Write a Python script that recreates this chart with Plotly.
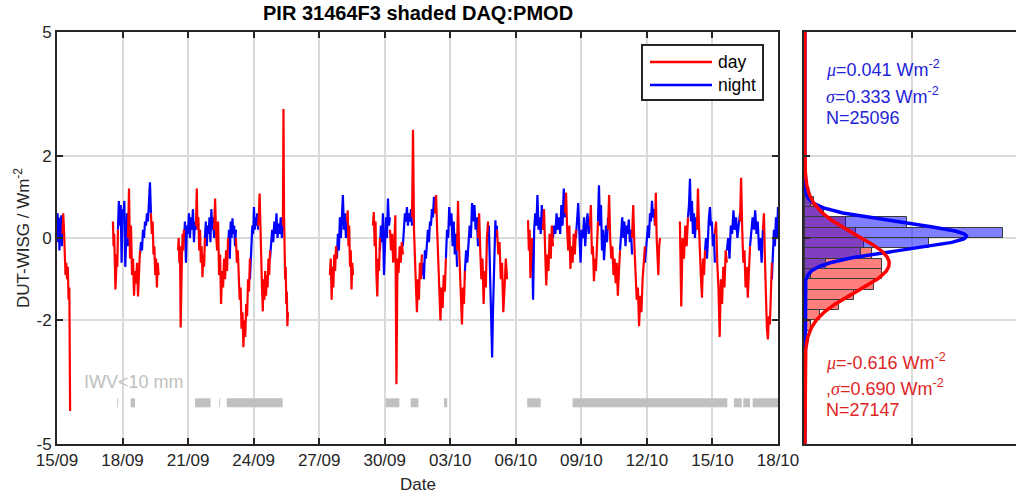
import numpy as np
import pandas as pd
import plotly.graph_objects as go

W, H = 1016, 498
START = pd.Timestamp("2016-09-15")

# ---- time series: (start_day, end_day, samples), days counted from 15/09 ----
DAY_SEGMENTS = [
    (0.25, 0.60, [0.1, 0.6, 0.2, -0.5, -0.9, -0.6, -1.0, -0.7, -1.5, -1.2, -4.2]),
    (2.56, 2.79, [0.4, -0.2, 0.1, -0.8, -1.25, -0.9, -0.4, -0.7, 0.2]),
    (3.25, 3.80, [0.0, 1.2, -0.5, 0.3, -0.9, -0.5, -1.4, -0.8, -1.1, -0.6, -1.42, -0.9, -0.3]),
    (4.30, 4.65, [0.6, 0.1, 0.4, -0.4, -0.2, -0.9, -0.5, -1.2, -0.6, -0.9]),
    (5.54, 5.81, [-0.3, 0.0, -0.6, -0.2, -2.17, -0.8, -0.4, 0.1, -0.3, 0.2]),
    (6.36, 6.77, [0.3, 1.2, 0.2, 0.5, -0.3, 0.2, -0.6, -0.2, -0.95, -0.4, -0.7, 0.0]),
    (7.19, 7.83, [0.2, 0.96, 0.1, -0.3, 0.4, -0.9, -0.4, -1.6, -0.8, -1.2, -0.5, -1.0, -0.3, -0.8, 0.0]),
    (8.19, 8.83, [0.0, -0.6, -0.3, -1.0, -1.5, -1.2, -2.2, -1.8, -2.65, -2.0, -2.4, -1.6, -1.9, -1.0, -1.3, -0.5]),
    (9.20, 9.75, [0.3, 0.5, 1.08, 0.0, -0.8, -1.2, -1.78, -1.0, -1.5, -0.8, -1.4, -0.9, -1.2, -0.5, -0.9, -0.3]),
    (10.34, 10.57, [0.3, 3.13, 0.6, -0.4, -1.0, -0.7, -1.6, -1.3, -2.14, -1.8]),
    (12.49, 12.81, [-0.9, -0.5, -1.5, -0.7, -1.2, -0.4, -0.8, -0.2, -0.5]),
    (13.27, 13.55, [0.4, 0.67, -0.2, 0.3, -0.7, -0.3, -1.25, -0.6, -0.9]),
    (14.46, 14.78, [0.3, 0.63, -0.2, 0.4, -0.9, -1.42, -0.5, -0.8, 0.0]),
    (15.24, 15.83, [0.2, -0.3, 0.1, -0.6, -0.2, 0.55, -3.55, -0.5, -0.85, -0.2, -0.6, -0.1, -0.4]),
    (16.25, 16.70, [0.5, 2.63, 0.2, -0.8, -1.2, -1.8, -1.0, -1.5, -0.6, -1.0, -0.4]),
    (17.30, 17.80, [0.6, 1.04, 0.2, -0.6, -1.5, -2.0, -1.2, -1.7, -0.9, -1.3, -0.5]),
    (18.31, 18.67, [-0.3, 0.9, -0.2, -1.0, -1.5, -2.1, -1.2, -1.6, -0.8]),
    (19.27, 19.73, [0.0, 0.6, -0.3, -1.0, -0.5, -1.6, -0.8, -1.2, 0.0, 0.4]),
    (20.14, 20.60, [0.2, -0.4, -0.1, -1.0, -0.6, -1.8, -1.2, -0.5, -1.0]),
    (21.56, 21.74, [0.43, -0.3, 0.2, -0.97, -0.5, 0.0]),
    (22.24, 22.70, [0.2, 0.7, -0.3, -1.15, -0.4, -0.8, 0.1, -0.5, 0.3, -0.2]),
    (23.25, 23.75, [0.6, 1.1, 0.2, -0.3, 0.3, -0.75, -0.2, -0.6, 0.1, -0.4, 0.2]),
    (24.39, 24.76, [0.3, 0.8, -0.4, -0.2, -1.05, -0.5, -0.8, 0.0, 0.4]),
    (25.22, 25.77, [0.2, 1.04, 0.0, -0.5, -0.2, -0.9, -0.5, -1.1, -0.6, -1.4, -0.8, -0.3]),
    (26.32, 26.91, [0.0, 0.8, -0.2, -0.9, -1.5, -1.2, -2.14, -1.4, -1.8, -1.0, -0.6, -0.2]),
    (27.37, 27.60, [0.3, 1.1, 0.0, -0.5, -0.9, -0.2, 0.0]),
    (28.51, 28.88, [0.4, -1.66, 0.0, -0.5, 0.3, -0.2, 0.5]),
    (29.29, 29.66, [0.2, 1.2, 0.3, -0.6, -1.0, -1.45, -0.5, -0.9, -0.3]),
    (30.11, 30.66, [0.1, 0.4, -0.6, -1.2, -2.4, -1.0, -1.6, -0.7, -1.2, -0.3, -0.6]),
    (31.26, 31.72, [0.4, 1.46, 0.2, -0.6, -0.3, -1.2, -0.7, -1.45, -0.8, -0.2]),
    (32.31, 32.72, [0.2, 0.6, -0.5, -1.5, -2.2, -2.46, -1.9, -2.1, -1.2, -0.6]),
]

NIGHT_SEGMENTS = [
    (0.00, 0.25, [0.2, 0.6, -0.1, 0.5, -0.3, 0.4, 0.1, 0.55, -0.2, 0.3]),
    (2.79, 3.25, [0.2, 0.9, 0.3, 0.8, -0.6, 0.7, 0.5, 0.9, -0.7, 0.1, 0.6, -0.2]),
    (3.80, 4.30, [-0.4, -0.1, -0.3, 0.2, 0.0, 0.4, 0.3, 0.6, 0.4, 0.8, 1.35, 0.6]),
    (5.81, 6.36, [-0.1, 0.4, -0.6, 0.3, 0.1, 0.6, 0.0, 0.5, 0.2, 0.7, -0.1, 0.4, 0.2]),
    (6.77, 7.19, [0.0, 0.4, -0.2, 0.3, 0.1, 0.5, -0.1, 0.7, 0.2, 0.5, 0.0]),
    (7.83, 8.19, [-0.3, 0.2, -0.5, 0.4, 0.0, 0.48, 0.1, 0.3, -0.2, 0.2]),
    (8.83, 9.20, [-1.0, -0.4, 0.0, 0.3, 0.1, 0.75, 0.2, 0.5, 0.3, 0.6, 0.2]),
    (9.75, 10.34, [-0.5, -0.2, 0.2, -0.1, 0.4, 0.1, 0.6, 0.0, 0.35, 0.1, 0.5, 0.0, 0.3]),
    (12.81, 13.27, [-0.5, 0.1, -0.3, 0.5, 0.0, 0.7, 1.04, 0.2, 0.6, 0.0, 0.4]),
    (14.78, 15.24, [-0.3, 0.3, -0.1, 0.6, -0.9, 0.2, 0.5, 0.0, 0.96, 0.3, 0.5]),
    (15.83, 16.25, [-0.2, 0.3, 0.6, 0.4, 0.75, 0.3, 0.6, 0.4, 0.7, 0.3]),
    (16.70, 17.30, [-0.9, -0.6, -1.0, -0.3, -0.5, 0.0, 0.2, -0.1, 0.4, 0.3, 0.7, 0.5, 1.0, 0.6]),
    (17.80, 18.31, [-0.5, 0.2, 0.0, 0.75, 0.3, 0.6, -0.2, 0.4, -0.4, 0.1, -0.7]),
    (18.67, 19.27, [-0.8, -0.3, -0.6, 0.0, 0.3, 0.0, 0.85, 0.4, 0.8, 0.2, 0.5, -0.2]),
    (19.73, 20.14, [0.0, 0.3, -0.5, -1.5, -2.2, -2.9, -1.8, -1.0, -0.3, 0.43, 0.0, 0.3]),
    (21.74, 22.24, [0.0, -1.5, 0.2, 0.6, 0.3, 1.04, 0.2, 0.5, 0.1, 0.8, 0.2]),
    (22.70, 23.25, [0.0, 0.3, 0.1, 0.6, 0.2, 0.5, 0.1, 0.8, 0.3, 1.2, 0.5]),
    (23.75, 24.39, [0.0, 0.4, 0.85, 0.1, -0.6, 0.2, 0.0, 0.5, -0.2, 0.3, 0.6, 0.1, 0.4]),
    (24.76, 25.22, [0.4, 1.28, 0.3, 0.8, -0.3, 0.2, -0.54, 0.1, 0.3, -0.1, 0.5]),
    (25.77, 26.32, [-0.3, 0.2, 0.5, 0.0, 0.4, -0.2, 0.3, 0.1, 0.45, -0.1, 0.2, -0.4]),
    (26.91, 27.37, [-0.6, -0.2, 0.1, 0.3, 0.0, 0.6, 0.4, 0.9, 0.5, 0.7, 0.3]),
    (28.88, 29.29, [0.5, 0.8, 1.44, 0.4, 0.9, 0.1, 0.6, 0.0, 0.5, 0.2]),
    (29.66, 30.11, [-0.3, 0.0, -0.5, 0.3, 0.5, 0.75, 0.3, 0.4, -0.2, 0.1, -0.6]),
    (30.66, 31.26, [-0.3, 0.0, -0.5, 0.3, 0.1, 0.67, 0.2, 0.5, 0.0, 0.4, 0.6]),
    (31.72, 32.31, [-0.2, 0.1, 0.5, 0.2, 0.67, 0.1, 0.4, -0.3, 0.0, -0.6, 0.2]),
    (32.72, 33.00, [-1.0, -0.4, 0.2, -0.2, 0.5, 0.0, 0.75]),
]

# periods with IWV < 10 mm (day offsets)
IWV_START = [2.76, 3.37, 6.32, 7.43, 7.77, 15.04, 16.19, 17.71, 21.52, 23.60, 30.98, 31.41, 31.84]
IWV_END = [2.80, 3.57, 7.03, 7.47, 10.33, 15.67, 16.54, 17.86, 22.14, 30.68, 31.34, 31.72, 33.01]
IWV_LEVEL = -4.0

# ---- histogram of differences (bin lower edges, width 0.25 Wm-2) ----
BIN_LOWER = [-2.5, -2.25, -2.0, -1.75, -1.5, -1.25, -1.0, -0.75, -0.5, -0.25, 0.0, 0.25, 0.5, 0.75, 1.0]
BIN_WIDTH = 0.25
DAY_COUNTS = [120, 300, 710, 1590, 2280, 3210, 3600, 3600, 3130, 2750, 2360, 1900, 890, 430, 60]
NIGHT_COUNTS = [0, 10, 20, 40, 80, 100, 300, 1000, 2590, 5750, 9200, 4750, 900, 300, 60]

# fitted normal statistics
DAY_MU, DAY_SIGMA, DAY_N = -0.616, 0.690, 27147
NIGHT_MU, NIGHT_SIGMA, NIGHT_N = 0.041, 0.333, 25096

X_TICK_DAYS = [0, 3, 6, 9, 12, 15, 18, 21, 24, 27, 30, 33]
Y_TICKS = [-5, -2, 0, 2, 5]
Y_TICK_TEXT = ["-5", "-2", "0", "2", "5"]

FONT = "Liberation Sans, Arial, Helvetica, sans-serif"
SERIF = "Liberation Serif, Times New Roman, serif"
INK = "#262626"
GRID = "#dadada"
RED = "#ff0000"
BLUE = "#0000ff"


def to_time(days):
    return START + pd.to_timedelta(np.asarray(days, dtype=float), unit="D")


def build(segments):
    xs, ys = [], []
    for t0, t1, vals in segments:
        t = np.linspace(t0, t1, len(vals))
        xs.extend(list(to_time(t)))
        ys.extend(vals)
        xs.append(None)
        ys.append(None)
    return xs, ys


def px(x):
    return x / W


def py(y):
    return 1 - y / H


def greek(ch):
    return f'<span style="font-family:{SERIF}"><i>{ch}</i></span>'


fig = go.Figure()

# IWV flag bars
iwv_x, iwv_y = [], []
for a, b in zip(IWV_START, IWV_END):
    iwv_x += [to_time([a])[0], to_time([b])[0], None]
    iwv_y += [IWV_LEVEL, IWV_LEVEL, None]
fig.add_trace(go.Scatter(x=iwv_x, y=iwv_y, mode="lines",
                         line=dict(color="#c0c0c0", width=9),
                         showlegend=False, hoverinfo="skip"))

dx, dy = build(DAY_SEGMENTS)
nx, ny = build(NIGHT_SEGMENTS)
fig.add_trace(go.Scatter(x=nx, y=ny, mode="lines", name="night",
                         line=dict(color=BLUE, width=2.2), showlegend=False))
fig.add_trace(go.Scatter(x=dx, y=dy, mode="lines", name="day",
                         line=dict(color=RED, width=2.2), showlegend=False))

# histogram panel
centers = [b + BIN_WIDTH / 2 for b in BIN_LOWER]
fig.add_trace(go.Bar(x=DAY_COUNTS, y=centers, orientation="h", width=BIN_WIDTH,
                     marker=dict(color="rgba(255,0,0,0.5)", line=dict(color="#3a3a3a", width=1)),
                     xaxis="x2", yaxis="y2", showlegend=False))
fig.add_trace(go.Bar(x=NIGHT_COUNTS, y=centers, orientation="h", width=BIN_WIDTH,
                     marker=dict(color="rgba(0,0,255,0.5)", line=dict(color="#3a3a3a", width=1)),
                     xaxis="x2", yaxis="y2", showlegend=False))

yy = np.linspace(-5, 5, 801)


def normal_counts(mu, sigma, n):
    return n * BIN_WIDTH * np.exp(-0.5 * ((yy - mu) / sigma) ** 2) / (sigma * np.sqrt(2 * np.pi))


fig.add_trace(go.Scatter(x=normal_counts(NIGHT_MU, NIGHT_SIGMA, NIGHT_N), y=yy, mode="lines",
                         line=dict(color=BLUE, width=3.5), xaxis="x2", yaxis="y2", showlegend=False))
fig.add_trace(go.Scatter(x=normal_counts(DAY_MU, DAY_SIGMA, DAY_N), y=yy, mode="lines",
                         line=dict(color=RED, width=3.5), xaxis="x2", yaxis="y2", showlegend=False))

axis_common = dict(showline=True, linewidth=2, linecolor=INK, ticks="inside", ticklen=6,
                   tickwidth=2, tickcolor=INK, showgrid=True, gridcolor=GRID, gridwidth=2,
                   zeroline=False, automargin=False,
                   tickfont=dict(family=FONT, size=17, color=INK))

y_dom = [54 / H, 466 / H]

fig.update_layout(
    template="none",
    width=W, height=H, autosize=False,
    margin=dict(l=0, r=0, t=0, b=0, pad=0),
    paper_bgcolor="white", plot_bgcolor="white",
    barmode="overlay", bargap=0,
    xaxis=dict(axis_common, type="date", domain=[57 / W, 778 / W],
               range=[to_time([0])[0], to_time([33])[0]],
               tickvals=list(to_time(X_TICK_DAYS)), tickformat="%d/%m", mirror="allticks"),
    yaxis=dict(axis_common, domain=y_dom, range=[-5, 5], tickvals=Y_TICKS,
               ticktext=Y_TICK_TEXT, mirror="allticks"),
    xaxis2=dict(axis_common, anchor="y2", domain=[804 / W, 1.0], range=[-40, 9815],
                tickvals=[5000], showticklabels=False, mirror="allticks"),
    yaxis2=dict(axis_common, anchor="x2", domain=y_dom, range=[-5, 5], tickvals=Y_TICKS,
                showticklabels=False, mirror=False),
    showlegend=False,
)

ann = []
ann.append(dict(text="<b>PIR 31464F3 shaded DAQ:PMOD</b>", x=px(418), y=py(13),
                font=dict(family=FONT, size=20, color="black")))
ann.append(dict(text="Date", x=px(418), y=py(484), font=dict(family=FONT, size=17, color=INK)))
ann.append(dict(text="DUT-WISG / Wm<sup>-2</sup>", x=px(22), y=py(238), textangle=-90,
                font=dict(family=FONT, size=17, color=INK)))
ann.append(dict(text="IWV<10 mm", x=px(82), y=py(382), xanchor="left",
                font=dict(family=FONT, size=18, color="#c0c0c0")))
# legend entries
ann.append(dict(text="day", x=px(716), y=py(62), xanchor="left",
                font=dict(family=FONT, size=17.5, color="black")))
ann.append(dict(text="night", x=px(716), y=py(85), xanchor="left",
                font=dict(family=FONT, size=17.5, color="black")))
# fit statistics
NIGHT_TXT = "#2323d8"
DAY_TXT = "#e02525"
MU, SIG = greek("\u03bc"), greek("\u03c3")
ann.append(dict(text=f"{MU}={NIGHT_MU:.3f} Wm<sup>-2</sup>", x=px(824), y=py(69), xanchor="left",
                font=dict(family=FONT, size=18, color=NIGHT_TXT)))
ann.append(dict(text=f"{SIG}={NIGHT_SIGMA:.3f} Wm<sup>-2</sup>", x=px(824), y=py(96), xanchor="left",
                font=dict(family=FONT, size=18, color=NIGHT_TXT)))
ann.append(dict(text=f"N={NIGHT_N}", x=px(824), y=py(118), xanchor="left",
                font=dict(family=FONT, size=18, color=NIGHT_TXT)))
ann.append(dict(text=f"{MU}={DAY_MU:.3f} Wm<sup>-2</sup>", x=px(824), y=py(361), xanchor="left",
                font=dict(family=FONT, size=18, color=DAY_TXT)))
ann.append(dict(text=f",{SIG}={DAY_SIGMA:.3f} Wm<sup>-2</sup>", x=px(824), y=py(387), xanchor="left",
                font=dict(family=FONT, size=18, color=DAY_TXT)))
ann.append(dict(text=f"N={DAY_N}", x=px(824), y=py(410), xanchor="left",
                font=dict(family=FONT, size=18, color=DAY_TXT)))

for a in ann:
    a.update(xref="paper", yref="paper", showarrow=False)
    a.setdefault("xanchor", "center")
    a.setdefault("yanchor", "middle")
fig.update_layout(annotations=ann)

# legend box with line samples
shapes = [
    dict(type="rect", xref="paper", yref="paper", x0=px(642), x1=px(763), y0=py(100), y1=py(45),
         line=dict(color=INK, width=2), fillcolor="white", layer="above"),
    dict(type="line", xref="paper", yref="paper", x0=px(650), x1=px(712), y0=py(62), y1=py(62),
         line=dict(color=RED, width=2.5), layer="above"),
    dict(type="line", xref="paper", yref="paper", x0=px(650), x1=px(712), y0=py(85), y1=py(85),
         line=dict(color=BLUE, width=2.5), layer="above"),
]
fig.update_layout(shapes=shapes)

fig.write_html("out.html")
